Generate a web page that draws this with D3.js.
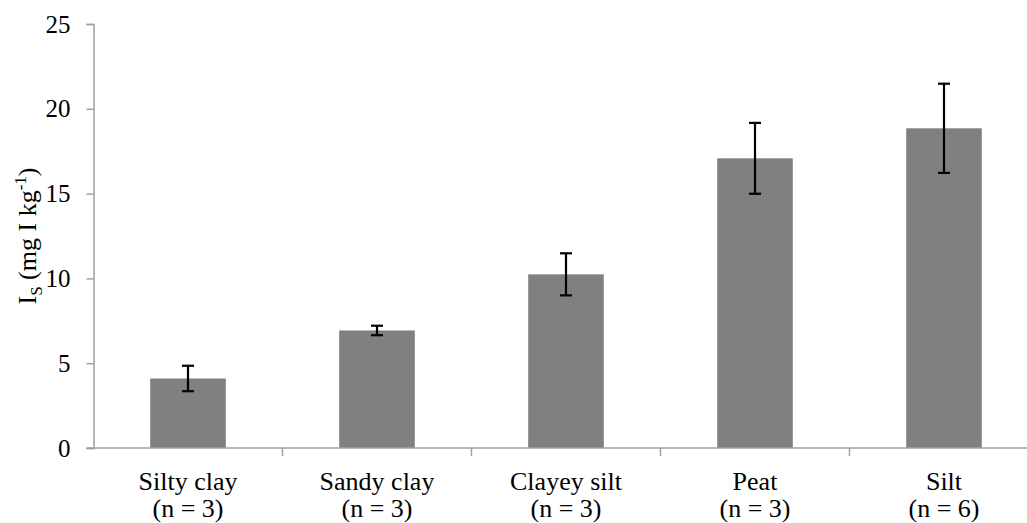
<!DOCTYPE html>
<html>
<head>
<meta charset="utf-8">
<script src="https://cdn.jsdelivr.net/npm/d3@7"></script>
<style>
	html, body { margin: 0; padding: 0; background: #fff; overflow: hidden; }
	svg { display: block; font-family: "Liberation Serif", "Times New Roman", serif; }
</style>
</head>
<body>
<div id="chart"></div>
<script>
'use strict';

// data
var categories = ['Silty clay', 'Sandy clay', 'Clayey silt', 'Peat', 'Silt'];
var sampleSizes = ['(n = 3)', '(n = 3)', '(n = 3)', '(n = 3)', '(n = 6)'];
var means = [4.1, 6.93, 10.24, 17.08, 18.85];
var errors = [0.75, 0.28, 1.24, 2.09, 2.63];
var yTicks = [0, 5, 10, 15, 20, 25];

// basic options
var width = 1027;
var height = 523;
var left = 93.5;
var band = 189;
var y0 = 448;
var yTop = 24;
var axisColor = '#a0a0a0';

var svg = d3.select('#chart').append('svg')
	.attr('width', width)
	.attr('height', height);

// scales
var x = d3.scaleBand()
	.domain(categories)
	.range([left, left + band * categories.length])
	.padding(0);

var y = d3.scaleLinear()
	.domain([0, 25])
	.range([y0, yTop]);

var barW = x.bandwidth() * 0.4;

// bars
svg.selectAll('rect.bar')
	.data(means)
	.enter()
	.append('rect')
	.attr('class', 'bar')
	.attr('x', function(d, i){ return x(categories[i]) + (x.bandwidth() - barW) / 2; })
	.attr('y', function(d){ return y(d); })
	.attr('width', barW)
	.attr('height', function(d){ return y0 - y(d); })
	.attr('fill', '#808080');

// y axis
var yAxis = svg.append('g')
	.attr('transform', 'translate(' + left + ',0)')
	.call(d3.axisLeft(y).tickValues(yTicks).tickSize(7).tickPadding(16));

yAxis.select('.domain').attr('stroke', axisColor).attr('stroke-width', 1.5);
yAxis.selectAll('.tick line').attr('stroke', axisColor).attr('stroke-width', 1.5);
yAxis.selectAll('.tick text')
	.attr('fill', '#000')
	.style('font-size', '25px')
	.style('font-family', '"Liberation Serif", "Times New Roman", serif');

// x axis line and boundary ticks
svg.append('line')
	.attr('x1', left - 7).attr('x2', x.range()[1])
	.attr('y1', y0).attr('y2', y0)
	.attr('stroke', axisColor).attr('stroke-width', 1.5);

svg.selectAll('line.xtick')
	.data(categories.slice(1))
	.enter()
	.append('line')
	.attr('class', 'xtick')
	.attr('x1', function(d){ return x(d); })
	.attr('x2', function(d){ return x(d); })
	.attr('y1', y0).attr('y2', y0 + 8)
	.attr('stroke', axisColor).attr('stroke-width', 1.5);

// category labels
var labels = svg.selectAll('text.cat')
	.data(categories)
	.enter()
	.append('text')
	.attr('class', 'cat')
	.attr('text-anchor', 'middle')
	.style('font-size', '26px');

labels.append('tspan')
	.attr('x', function(d){ return x(d) + x.bandwidth() / 2; })
	.attr('y', 490)
	.text(function(d){ return d; });

labels.append('tspan')
	.attr('x', function(d){ return x(d) + x.bandwidth() / 2; })
	.attr('y', 517)
	.text(function(d, i){ return sampleSizes[i]; });

// error bars
var errG = svg.selectAll('g.err')
	.data(means)
	.enter()
	.append('g')
	.attr('class', 'err')
	.attr('stroke', '#000')
	.attr('stroke-width', 2.2);

var cx = function(d, i){ return x(categories[i]) + x.bandwidth() / 2; };

errG.append('line')
	.attr('x1', cx).attr('x2', cx)
	.attr('y1', function(d, i){ return y(d + errors[i]); })
	.attr('y2', function(d, i){ return y(d - errors[i]); });

errG.append('line')
	.attr('x1', function(d, i){ return cx(d, i) - 6; })
	.attr('x2', function(d, i){ return cx(d, i) + 6; })
	.attr('y1', function(d, i){ return y(d + errors[i]); })
	.attr('y2', function(d, i){ return y(d + errors[i]); });

errG.append('line')
	.attr('x1', function(d, i){ return cx(d, i) - 6; })
	.attr('x2', function(d, i){ return cx(d, i) + 6; })
	.attr('y1', function(d, i){ return y(d - errors[i]); })
	.attr('y2', function(d, i){ return y(d - errors[i]); });

// y axis title
var title = svg.append('text')
	.attr('transform', 'translate(36,' + ((y0 + yTop) / 2) + ') rotate(-90)')
	.attr('text-anchor', 'middle')
	.style('font-size', '26px');

title.append('tspan').text('I');
title.append('tspan').attr('dy', 6).style('font-size', '17px').text('S');
title.append('tspan').attr('dy', -6).text(' (mg I kg');
title.append('tspan').attr('dy', -10).style('font-size', '17px').text('-1');
title.append('tspan').attr('dy', 10).text(')');
</script>
</body>
</html>
